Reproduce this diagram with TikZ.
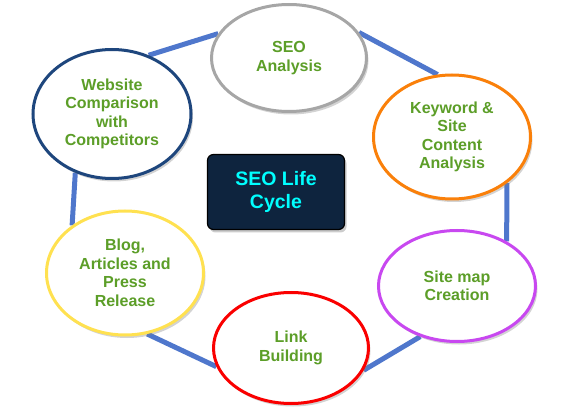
\documentclass[tikz,border=0pt]{standalone}
\usepackage{fontspec}
\setsansfont{Liberation Sans}
\usepackage{tikz}
\usetikzlibrary{shapes.geometric, arrows.meta, positioning, calc, shadows, backgrounds}

\definecolor{txtgreen}{RGB}{92,158,40}
\definecolor{hubcyan}{RGB}{0,255,255}
\definecolor{linkblue}{RGB}{79,119,204}
\definecolor{boxnavy}{RGB}{14,36,62}
\definecolor{ringgray}{RGB}{166,166,166}
\definecolor{ringorange}{RGB}{250,128,10}
\definecolor{ringviolet}{RGB}{200,72,240}
\definecolor{ringred}{RGB}{250,0,0}
\definecolor{ringyellow}{RGB}{255,225,80}
\definecolor{ringnavy}{RGB}{30,70,125}

\begin{document}
\begin{tikzpicture}[
    x=1pt, y=-1pt,
    phase/.style={ellipse, draw=#1, line width=3pt, fill=white, inner sep=0pt, align=center,
        font=\sffamily\bfseries\fontsize{16}{18.5}\selectfont, text=txtgreen,
        drop shadow={opacity=0.35, shadow xshift=2pt, shadow yshift=-3pt}},
    hub/.style={draw=black, line width=1.2pt, fill=boxnavy, rounded corners=6pt, align=center,
        minimum width=137pt, minimum height=75pt,
        font=\sffamily\bfseries\fontsize{19.5}{22.5}\selectfont, text=hubcyan,
        drop shadow={opacity=0.4, shadow xshift=2pt, shadow yshift=-3pt}},
    link/.style={linkblue, line width=5pt}
]
\useasboundingbox (0,0) rectangle (587,409);

\node[hub] (hub) at (276,192) {SEO Life\\Cycle};

% Phases of the cycle
\node[phase=ringgray, minimum width=155pt, minimum height=107pt] (seo) at (289,58) {SEO\\Analysis};
\node[phase=ringorange, minimum width=157pt, minimum height=124pt] (key) at (452,137) {Keyword \&\\Site\\Content\\Analysis};
\node[phase=ringviolet, minimum width=157pt, minimum height=111pt] (map) at (457,286) {Site map\\Creation};
\node[phase=ringred, minimum width=155pt, minimum height=111pt] (lnk) at (291,348) {Link\\Building};
\node[phase=ringyellow, minimum width=157pt, minimum height=124pt] (blog) at (125,273) {Blog,\\Articles and\\Press\\Release};
\node[phase=ringnavy, minimum width=158pt, minimum height=129pt] (web) at (112,114) {Website\\Comparison\\with\\Competitors};

% Connectors between phases
\begin{scope}[on background layer]
\draw[link] (web.58) -- (seo.161);
\draw[link] (seo.20) -- (key.103);
\draw[link] (key.-40) -- (map.42);
\draw[link] (map.234) -- (lnk.-17);
\draw[link] (lnk.194) -- (blog.-70);
\draw[link] (blog.138) -- (web.238);
\end{scope}

\end{tikzpicture}
\end{document}
